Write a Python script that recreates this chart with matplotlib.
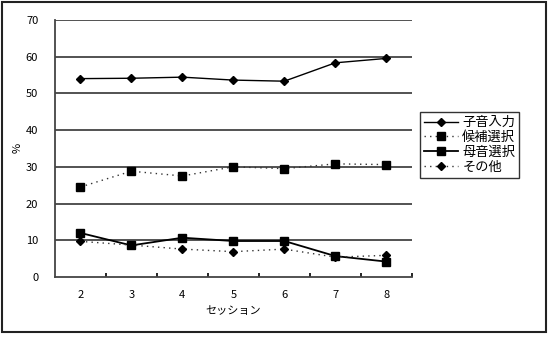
import matplotlib
matplotlib.use("Agg")
from matplotlib import pyplot as plt
from matplotlib.patches import Rectangle

plt.rcParams['font.family'] = ['Noto Sans CJK JP', 'DejaVu Sans']

sessions = ['2', '3', '4', '5', '6', '7', '8']
shiin = [54.0, 54.1, 54.4, 53.6, 53.3, 58.3, 59.5]
kouho = [24.5, 28.8, 27.5, 30.0, 29.5, 30.8, 30.6]
boin = [12.0, 8.6, 10.7, 9.8, 9.8, 5.7, 4.2]
sonota = [9.7, 8.7, 7.6, 6.9, 7.6, 5.4, 5.9]
yticks = [0, 10, 20, 30, 40, 50, 60, 70]

fig = plt.figure(figsize=(5.49, 3.42), dpi=100)
ax = fig.add_axes([0.100, 0.190, 0.650, 0.752])

x = [i + 0.5 for i in range(len(sessions))]

for y in yticks[1:]:
    ax.axhline(y, color='#444444', lw=1.3, zorder=1)

ax.plot(x, shiin, color='black', lw=1, marker='D', ms=4, label='子音入力', zorder=3)
ax.plot(x, kouho, color='#333333', lw=1, ls=(0, (1, 3)), marker='s', ms=6,
        mfc='black', mec='black', label='候補選択', zorder=3)
ax.plot(x, boin, color='black', lw=1.3, marker='s', ms=6, label='母音選択', zorder=3)
ax.plot(x, sonota, color='#333333', lw=1, ls=(0, (1, 3)), marker='D', ms=4,
        mfc='black', mec='black', label='その他', zorder=3)

ax.set_xlim(0, len(sessions))
ax.set_ylim(0, 70)
ax.set_yticks(yticks)
ax.set_xticks(range(1, len(sessions) + 1))
ax.set_xticklabels([])
ax.set_xticks(x, minor=True)
ax.set_xticklabels(sessions, minor=True)
ax.tick_params(axis='x', which='major', direction='in', length=3, width=1.2)
ax.tick_params(axis='x', which='minor', length=0, pad=9, labelsize=8)
ax.tick_params(axis='y', length=0, pad=12, labelsize=8)

for s in ['top', 'right']:
    ax.spines[s].set_visible(False)
for s in ['left', 'bottom']:
    ax.spines[s].set_color('#444444')
    ax.spines[s].set_linewidth(1.3)

ax.set_xlabel('セッション', fontsize=8, labelpad=5)
ax.set_ylabel('%', fontsize=8, labelpad=2)

leg = ax.legend(loc='upper left', bbox_to_anchor=(0.765, 0.672), bbox_transform=fig.transFigure,
                fontsize=9.5, frameon=True, fancybox=False, edgecolor='black',
                handlelength=2.6, handletextpad=0.3, borderpad=0.3, labelspacing=0.15,
                borderaxespad=0)
leg.get_frame().set_linewidth(1.0)

fig.patches.append(Rectangle((0.004, 0.03), 0.991, 0.964, transform=fig.transFigure,
                             fill=False, edgecolor='#222222', lw=1.5))

fig.savefig('out.png', dpi=100)
